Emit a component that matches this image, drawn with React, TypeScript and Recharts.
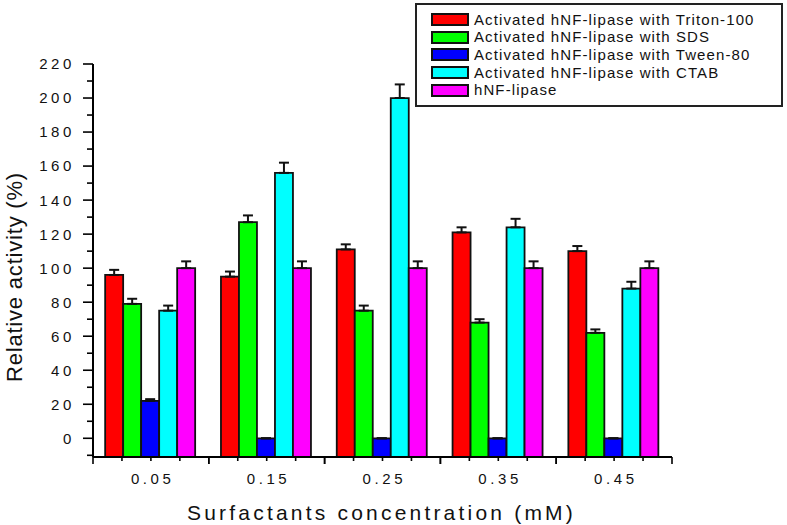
import React from 'react';
import { BarChart, Bar, XAxis, YAxis, ErrorBar, Legend, Customized } from 'recharts';

// ---- data ----
const categories = ['0.05', '0.15', '0.25', '0.35', '0.45'];
const triton = [96, 95, 111, 121, 110];
const tritonErr = [3, 3, 3, 3, 3];
const sds = [79, 127, 75, 68, 62];
const sdsErr = [3, 4, 3, 2, 2];
const tween = [22, 0, 0, 0, 0];
const tweenErr = [1, 0, 0, 0, 0];
const ctab = [75, 156, 200, 124, 88];
const ctabErr = [3, 6, 8, 5, 4];
const hnf = [100, 100, 100, 100, 100];
const hnfErr = [4, 4, 4, 4, 4];

const yTicks = [-10, 0, 10, 20, 30, 40, 50, 60, 70, 80, 90, 100, 110, 120, 130, 140, 150, 160, 170, 180, 190, 200, 210, 220];
const Y_MIN = -11;
const Y_MAX = 220;

const series = [
  { key: 'triton', name: 'Activated hNF-lipase with Triton-100', color: '#FF0000' },
  { key: 'sds', name: 'Activated hNF-lipase with SDS', color: '#00FF00' },
  { key: 'tween', name: 'Activated hNF-lipase with Tween-80', color: '#0000FF' },
  { key: 'ctab', name: 'Activated hNF-lipase with CTAB', color: '#00FFFF' },
  { key: 'hnf', name: 'hNF-lipase', color: '#FF00FF' },
];

const data = categories.map((c, i) => ({
  cat: c,
  triton: triton[i], tritonErr: tritonErr[i],
  sds: sds[i], sdsErr: sdsErr[i],
  tween: tween[i], tweenErr: tweenErr[i],
  ctab: ctab[i], ctabErr: ctabErr[i],
  hnf: hnf[i], hnfErr: hnfErr[i],
}));

const FONT = '"Liberation Sans", Arial, sans-serif';

const YTick = (props: any) => {
  const { x, y, payload } = props;
  const v = payload.value;
  const major = v >= 0 && v % 20 === 0;
  return (
    <g>
      <line x1={x - (major ? 10 : 6)} x2={x} y1={y} y2={y} stroke="#000" strokeWidth={1.6} />
      {major && (
        <text x={x - 18} y={y} dy="0.36em" textAnchor="end" fontFamily={FONT} fontSize={15}
          letterSpacing={3.6} fill="#111">{v}</text>
      )}
    </g>
  );
};

const XTick = (props: any) => {
  const { x, y, payload } = props;
  const half = payload && payload.offset ? payload.offset : 57.9;
  const q = half / 2;
  const lines = [-2, -1, 0, 1, 2].map((k) => (
    <line key={k} x1={x + k * q} x2={x + k * q} y1={y} y2={y + (Math.abs(k) === 2 ? 7 : 4)}
      stroke="#000" strokeWidth={1.6} />
  ));
  return (
    <g>
      {lines}
      <text x={x + 1.8} y={y + 26.5} textAnchor="middle" fontFamily={FONT} fontSize={15}
        letterSpacing={3.6} fill="#111">{payload.value}</text>
    </g>
  );
};

const LegendBox = () => (
  <div style={{
    position: 'relative', width: 368, height: 104, boxSizing: 'border-box',
    border: '2px solid #222', background: '#fff', fontFamily: FONT,
  }}>
    {series.map((s, i) => (
      <div key={s.key} style={{ position: 'absolute', left: 0, top: 14.5 + i * 17.7 - 8, height: 16, width: 360 }}>
        <div style={{
          position: 'absolute', left: 14, top: 1.5, width: 38, height: 13, boxSizing: 'border-box',
          background: s.color, border: '2px solid #111',
        }} />
        <div style={{
          position: 'absolute', left: 57, top: 0, lineHeight: '16px', fontSize: 15,
          letterSpacing: 1.1, color: '#111', whiteSpace: 'nowrap',
        }}>{s.name}</div>
      </div>
    ))}
  </div>
);

const Labels = () => (
  <g>
    <text x={381.5} y={520} textAnchor="middle" fontFamily={FONT} fontSize={21} letterSpacing={3.2}
      fill="#111">Surfactants concentration (mM)</text>
    <text x={22} y={277} transform="rotate(-90, 22, 277)" textAnchor="middle" fontFamily={FONT}
      fontSize={22} letterSpacing={0.8} fill="#111">Relative activity (%)</text>
  </g>
);

export default function App() {
  return (
    <div style={{ position: 'absolute', left: 0, top: 0, width: 787, height: 525, background: '#fff' }}>
      <BarChart width={787} height={525} data={data}
        margin={{ top: 64, right: 115, bottom: 0, left: 0 }}
        barCategoryGap="10.5%" barGap={0}>
        <XAxis dataKey="cat" height={68} tickSize={0} tickMargin={0} tick={<XTick />}
          axisLine={{ stroke: '#000', strokeWidth: 2 }} tickLine={false} interval={0} />
        <YAxis type="number" domain={[Y_MIN, Y_MAX]} ticks={yTicks} width={93} tickSize={0} tickMargin={0}
          tick={<YTick />} axisLine={{ stroke: '#000', strokeWidth: 2 }} tickLine={false} interval={0}
          allowDataOverflow />
        {series.map((s) => (
          <Bar key={s.key} name={s.name} dataKey={(d: any) => [Y_MIN, d[s.key]]} fill={s.color}
            stroke="#111" strokeWidth={1.8} isAnimationActive={false}>
            <ErrorBar dataKey={(d: any) => [0, d[s.key + 'Err']]} width={5} stroke="#111"
              strokeWidth={2} direction="y" />
          </Bar>
        ))}
        <Legend layout="vertical" align="center" verticalAlign="middle" content={() => <LegendBox />}
          wrapperStyle={{ top: 3, left: 415, width: 368, height: 104 }} />
        <Customized component={Labels} />
      </BarChart>
    </div>
  );
}
